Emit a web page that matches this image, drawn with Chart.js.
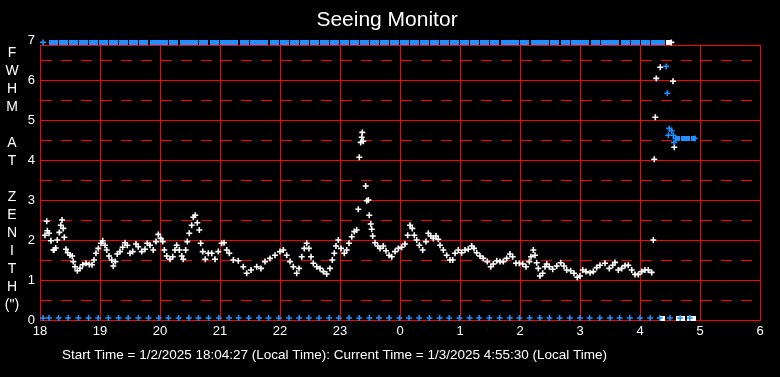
<!DOCTYPE html>
<html>
<head>
<meta charset="utf-8">
<script src="https://cdn.jsdelivr.net/npm/chart.js@4.4.1/dist/chart.umd.min.js"></script>
<style>
  html, body { margin: 0; background: #000; }
</style>
</head>
<body>
<canvas id="seeing" width="780" height="377"></canvas>
<script>
// hours since midnight of 1/2 (24 = 0:00 next day)
const hourTicks = [18, 19, 20, 21, 22, 23, 24, 25, 26, 27, 28, 29, 30];
// whole values are labelled, halves are dashed, 6.875 is the frame top
const fwhmTicks = [0, 0.5, 1, 1.5, 2, 2.5, 3, 3.5, 4, 4.5, 5, 5.5, 6, 6.5, 6.875, 7];

// white crosses: FWHM at zenith
const seeingHours = [
  18.083, 18.112, 18.122, 18.15, 18.183, 18.222, 18.233, 18.262, 18.288, 18.322, 18.345, 18.367, 18.388, 18.405,
  18.433, 18.462, 18.5, 18.538, 18.555, 18.583, 18.622, 18.667, 18.712, 18.767, 18.822, 18.867, 18.9, 18.933,
  18.972, 19.017, 19.045, 19.083, 19.112, 19.15, 19.195, 19.222, 19.255, 19.288, 19.333, 19.378, 19.417, 19.455,
  19.5, 19.545, 19.6, 19.638, 19.695, 19.75, 19.788, 19.833, 19.888, 19.933, 19.972, 20.012, 20.045, 20.072,
  20.112, 20.167, 20.212, 20.25, 20.278, 20.322, 20.362, 20.388, 20.428, 20.455, 20.488, 20.528, 20.555, 20.588,
  20.622, 20.655, 20.678, 20.712, 20.755, 20.805, 20.862, 20.917, 20.972, 21.028, 21.067, 21.112, 21.155,
  21.222, 21.305, 21.388, 21.445, 21.517, 21.612, 21.683, 21.75, 21.833, 21.917, 22.0, 22.055, 22.112, 22.167,
  22.222, 22.278, 22.317, 22.362, 22.405, 22.445, 22.483, 22.517, 22.555, 22.612, 22.667, 22.722, 22.778, 22.833,
  22.872, 22.905, 22.933, 22.972, 23.017, 23.072, 23.112, 23.15, 23.195, 23.238, 23.278, 23.305, 23.322, 23.345,
  23.362, 23.372, 23.388, 23.428, 23.445, 23.472, 23.488, 23.512, 23.528, 23.545, 23.583, 23.628, 23.667, 23.722,
  23.767, 23.817, 23.862, 23.917, 23.972, 24.028, 24.083, 24.128, 24.167, 24.205, 24.238,
  24.278, 24.322, 24.378, 24.433, 24.472, 24.512, 24.555, 24.6, 24.638, 24.667, 24.722, 24.778, 24.833, 24.878,
  24.917, 24.972, 25.028, 25.083, 25.138, 25.195, 25.233, 25.278, 25.333, 25.388, 25.455, 25.512, 25.555, 25.612,
  25.667, 25.722, 25.778, 25.833, 25.878, 25.933, 25.988, 26.045, 26.1, 26.155, 26.183, 26.222, 26.25, 26.278,
  26.305, 26.333, 26.378, 26.417, 26.445, 26.488, 26.545, 26.612, 26.678, 26.733, 26.778, 26.845, 26.9, 26.955,
  27.0, 27.045, 27.1, 27.167, 27.222, 27.278, 27.333, 27.417, 27.488, 27.545, 27.583, 27.638, 27.695, 27.75,
  27.805, 27.862, 27.917, 27.972, 28.028, 28.083, 28.138, 28.195,
  28.222, 28.238, 28.255, 28.272, 28.338, 28.55, 28.572, 28.522
];
const seeingFwhm = [
  2.12, 2.47, 2.23, 2.17, 1.98, 1.75, 1.75, 1.8, 2.0, 2.19, 2.37, 2.5, 2.29, 2.07,
  1.77, 1.68, 1.62, 1.6, 1.46, 1.33, 1.23, 1.29, 1.38, 1.42, 1.39, 1.38, 1.5, 1.67,
  1.79, 1.92, 1.98, 1.87, 1.75, 1.6, 1.5, 1.35, 1.46, 1.65, 1.71, 1.82, 1.93, 1.87,
  1.67, 1.71, 1.9, 1.83, 1.71, 1.77, 1.92, 1.87, 1.75, 1.96, 2.14, 2.04, 1.96, 1.75,
  1.6, 1.52, 1.58, 1.75, 1.87, 1.75, 1.6, 1.52, 1.75, 1.96, 2.17, 2.37, 2.57, 2.62,
  2.43, 2.25, 1.92, 1.71, 1.52, 1.67, 1.67, 1.52, 1.71, 1.92, 1.93, 1.75, 1.67,
  1.5, 1.48, 1.33, 1.17, 1.25, 1.33, 1.29, 1.46, 1.54, 1.62, 1.71, 1.75, 1.62, 1.46,
  1.33, 1.17, 1.29, 1.58, 1.79, 1.92, 1.79, 1.58, 1.42, 1.33, 1.29, 1.21, 1.15, 1.29,
  1.5, 1.67, 1.85, 2.0, 1.79, 1.67, 1.75, 1.92, 2.08, 2.21, 2.25, 2.77, 4.07, 4.44,
  4.57, 4.69, 4.47, 3.35, 2.98, 3.0, 2.62, 2.4, 2.27, 2.1, 1.93, 1.85, 1.79, 1.85,
  1.73, 1.62, 1.58, 1.71, 1.79, 1.82, 1.9, 2.12, 2.37, 2.29, 2.12,
  2.0, 1.87, 1.75, 1.96, 2.17, 2.1, 2.04, 2.1, 2.02, 1.87, 1.75, 1.62, 1.5, 1.5,
  1.67, 1.75, 1.68, 1.75, 1.77, 1.85, 1.79, 1.68, 1.6, 1.54, 1.46, 1.33, 1.4, 1.48,
  1.46, 1.46, 1.54, 1.65, 1.58, 1.42, 1.42, 1.4, 1.33, 1.46, 1.58, 1.75, 1.62, 1.43,
  1.29, 1.1, 1.17, 1.33, 1.4, 1.33, 1.27, 1.35, 1.43, 1.35, 1.25, 1.23, 1.17, 1.07,
  1.1, 1.25, 1.21, 1.18, 1.21, 1.31, 1.37, 1.42, 1.29, 1.37, 1.44, 1.25, 1.29, 1.36,
  1.37, 1.25, 1.14, 1.14, 1.21, 1.25, 1.25, 1.19,
  2.0, 4.02, 5.07, 6.04, 6.32, 5.97, 4.32, 6.94
];

// white solid marks (bursts of overlapping samples)
const whiteBlockHours = [28.68, 28.85];
const whiteBlockFwhm = [0.05, 0.05];
const whiteSmallHours = [28.47, 28.37];
const whiteSmallFwhm = [6.94, 0.05];

// blue crosses: 10 minute samples on the floor, plus the late cluster
const blueHours = [
  18.05, 18.15, 18.31, 18.47, 18.64, 18.81, 18.97, 19.14, 19.31, 19.47, 19.64, 19.81, 19.98, 20.14, 20.31,
  20.48, 20.64, 20.81, 20.98, 21.15, 21.31, 21.48, 21.65, 21.81, 21.98, 22.15, 22.32, 22.48, 22.65, 22.82,
  22.98, 23.15, 23.32, 23.49, 23.65, 23.82, 23.99, 24.15, 24.32, 24.49, 24.66, 24.82, 24.99, 25.16, 25.32,
  25.49, 25.66, 25.83, 25.99, 26.16, 26.33, 26.49, 26.66, 26.83, 27.0, 27.16, 27.33, 27.5, 27.66, 27.83,
  28.0, 28.17, 28.33, 28.5, 28.67, 28.83,
  18.05, 28.438, 28.455, 28.488, 28.528, 28.472, 28.555, 28.567, 28.595, 28.91
];
const blueFwhm = [
  0.05, 0.05, 0.05, 0.05, 0.05, 0.05, 0.05, 0.05, 0.05, 0.05, 0.05, 0.05, 0.05, 0.05, 0.05,
  0.05, 0.05, 0.05, 0.05, 0.05, 0.05, 0.05, 0.05, 0.05, 0.05, 0.05, 0.05, 0.05, 0.05, 0.05,
  0.05, 0.05, 0.05, 0.05, 0.05, 0.05, 0.05, 0.05, 0.05, 0.05, 0.05, 0.05, 0.05, 0.05, 0.05,
  0.05, 0.05, 0.05, 0.05, 0.05, 0.05, 0.05, 0.05, 0.05, 0.05, 0.05, 0.05, 0.05, 0.05, 0.05,
  0.05, 0.05, 0.05, 0.05, 0.05, 0.05,
  6.94, 6.34, 5.67, 4.79, 4.73, 4.62, 4.62, 4.44, 4.54, 4.54
];

// blue solid marks: runs of samples pinned at the top of the scale
const blueBlockHours = [
  18.23, 18.39, 18.56, 18.73, 18.89, 19.06, 19.23, 19.39, 19.56, 19.73, 19.9, 20.06, 20.23, 20.4, 20.56,
  20.73, 20.9, 21.07, 21.23, 21.4, 21.57, 21.73, 21.9, 22.07, 22.24, 22.4, 22.57, 22.74, 22.9, 23.07,
  23.24, 23.41, 23.57, 23.74, 23.91, 24.07, 24.24, 24.41, 24.58, 24.74, 24.91, 25.08, 25.24, 25.41, 25.58,
  25.75, 25.91, 26.08, 26.25, 26.41, 26.58, 26.75, 26.92, 27.08, 27.25, 27.42, 27.58, 27.75, 27.92, 28.09,
  28.25, 28.753
];
const blueBlockFwhm = [
  6.94, 6.94, 6.94, 6.94, 6.94, 6.94, 6.94, 6.94, 6.94, 6.94, 6.94, 6.94, 6.94, 6.94, 6.94,
  6.94, 6.94, 6.94, 6.94, 6.94, 6.94, 6.94, 6.94, 6.94, 6.94, 6.94, 6.94, 6.94, 6.94, 6.94,
  6.94, 6.94, 6.94, 6.94, 6.94, 6.94, 6.94, 6.94, 6.94, 6.94, 6.94, 6.94, 6.94, 6.94, 6.94,
  6.94, 6.94, 6.94, 6.94, 6.94, 6.94, 6.94, 6.94, 6.94, 6.94, 6.94, 6.94, 6.94, 6.94, 6.94,
  6.94, 4.54
];
const blueSmallHours = [28.38, 28.625, 28.888];
const blueSmallFwhm = [6.94, 4.54, 4.54];

const RED = '#ff0000';
const BLUE = '#1e90ff';
const WHITE = '#ffffff';
const FONT = 'Liberation Sans, Arial, sans-serif';

function pts(xs, ys) {
  return xs.map((x, i) => ({ x: x, y: ys[i] }));
}

function block(w, h, color) {
  const c = document.createElement('canvas');
  c.width = w; c.height = h;
  const g = c.getContext('2d');
  g.fillStyle = color;
  g.fillRect(0, 0, w, h);
  return c;
}

function crossSet(data, color, order) {
  return {
    data: data, showLine: false, clip: false, order: order,
    pointStyle: 'cross', pointRadius: 3, pointBorderWidth: 1.6,
    pointBorderColor: color, pointBackgroundColor: color
  };
}
function blockSet(data, style, order) {
  return {
    data: data, showLine: false, clip: false, order: order,
    pointStyle: style, pointRadius: 3, pointBorderWidth: 0
  };
}

const isHalf = c => c.tick && c.tick.value % 1 === 0.5;

const textPlugin = {
  id: 'texts',
  beforeDraw(chart) {
    const ctx = chart.ctx;
    ctx.save();
    ctx.fillStyle = '#000';
    ctx.fillRect(0, 0, chart.width, chart.height);
    ctx.restore();
  },
  afterDraw(chart) {
    const ctx = chart.ctx;
    ctx.save();
    ctx.fillStyle = WHITE;
    ctx.textBaseline = 'middle';
    ctx.textAlign = 'center';
    ctx.font = '21px ' + FONT;
    ctx.fillText('Seeing Monitor', 387, 20);

    // vertical axis title, one letter per line
    const letters = ['F', 'W', 'H', 'M', '', 'A', 'T', '', 'Z', 'E', 'N', 'I', 'T', 'H', '(")'];
    ctx.font = '14px ' + FONT;
    letters.forEach((s, i) => ctx.fillText(s, 12, 53 + i * 18));

    ctx.textAlign = 'left';
    ctx.font = '13.5px ' + FONT;
    ctx.fillText('Start Time = 1/2/2025 18:04:27 (Local Time): Current Time = 1/3/2025 4:55:30 (Local Time)', 62, 355);
    ctx.restore();
  }
};

new Chart(document.getElementById('seeing'), {
  type: 'scatter',
  data: {
    datasets: [
      crossSet(pts(seeingHours, seeingFwhm), WHITE, 2),
      blockSet(pts(whiteSmallHours, whiteSmallFwhm), block(5, 5, WHITE), 3),
      blockSet(pts(whiteBlockHours, whiteBlockFwhm), block(9, 5, WHITE), 4),
      crossSet(pts(blueHours, blueFwhm), BLUE, 1),
      blockSet(pts(blueBlockHours, blueBlockFwhm), block(9, 5, BLUE), 5),
      blockSet(pts(blueSmallHours, blueSmallFwhm), block(5, 5, BLUE), 6)
    ]
  },
  options: {
    responsive: false,
    animation: false,
    layout: { padding: { top: 45, left: 0, right: 20, bottom: 0 } },
    plugins: { legend: { display: false }, tooltip: { enabled: false } },
    scales: {
      x: {
        type: 'linear', min: 18, max: 30, position: 'bottom',
        afterBuildTicks: s => { s.ticks = hourTicks.map(v => ({ value: v })); },
        afterFit: s => { s.height = 57; },
        ticks: {
          color: WHITE, font: { family: FONT, size: 13 }, padding: 4, autoSkip: false, maxRotation: 0,
          callback: v => String(v % 24)
        },
        grid: { color: RED, lineWidth: 1, drawTicks: false },
        border: { color: RED, width: 1 }
      },
      y: {
        // a hair above 6.875 keeps every grid line on a whole pixel
        min: 0, max: 6.8750001, position: 'left',
        afterBuildTicks: s => { s.ticks = fwhmTicks.map(v => ({ value: v })); },
        afterFit: s => { s.width = 40; },
        ticks: {
          color: WHITE, font: { family: FONT, size: 13 }, padding: 5, autoSkip: false,
          callback: v => Number.isInteger(v) ? String(v) : ''
        },
        grid: {
          lineWidth: 1, drawTicks: false,
          color: c => (c.tick && c.tick.value === 7) ? 'rgba(0,0,0,0)' : RED
        },
        border: { color: RED, width: 1, dash: c => isHalf(c) ? [11, 9] : [] }
      },
      y2: {
        min: 0, max: 6.875, position: 'right',
        afterBuildTicks: s => { s.ticks = []; },
        afterFit: s => { s.width = 0; },
        ticks: { display: false },
        grid: { display: false },
        border: { color: RED, width: 1 }
      }
    }
  },
  plugins: [textPlugin]
});
</script>
</body>
</html>
